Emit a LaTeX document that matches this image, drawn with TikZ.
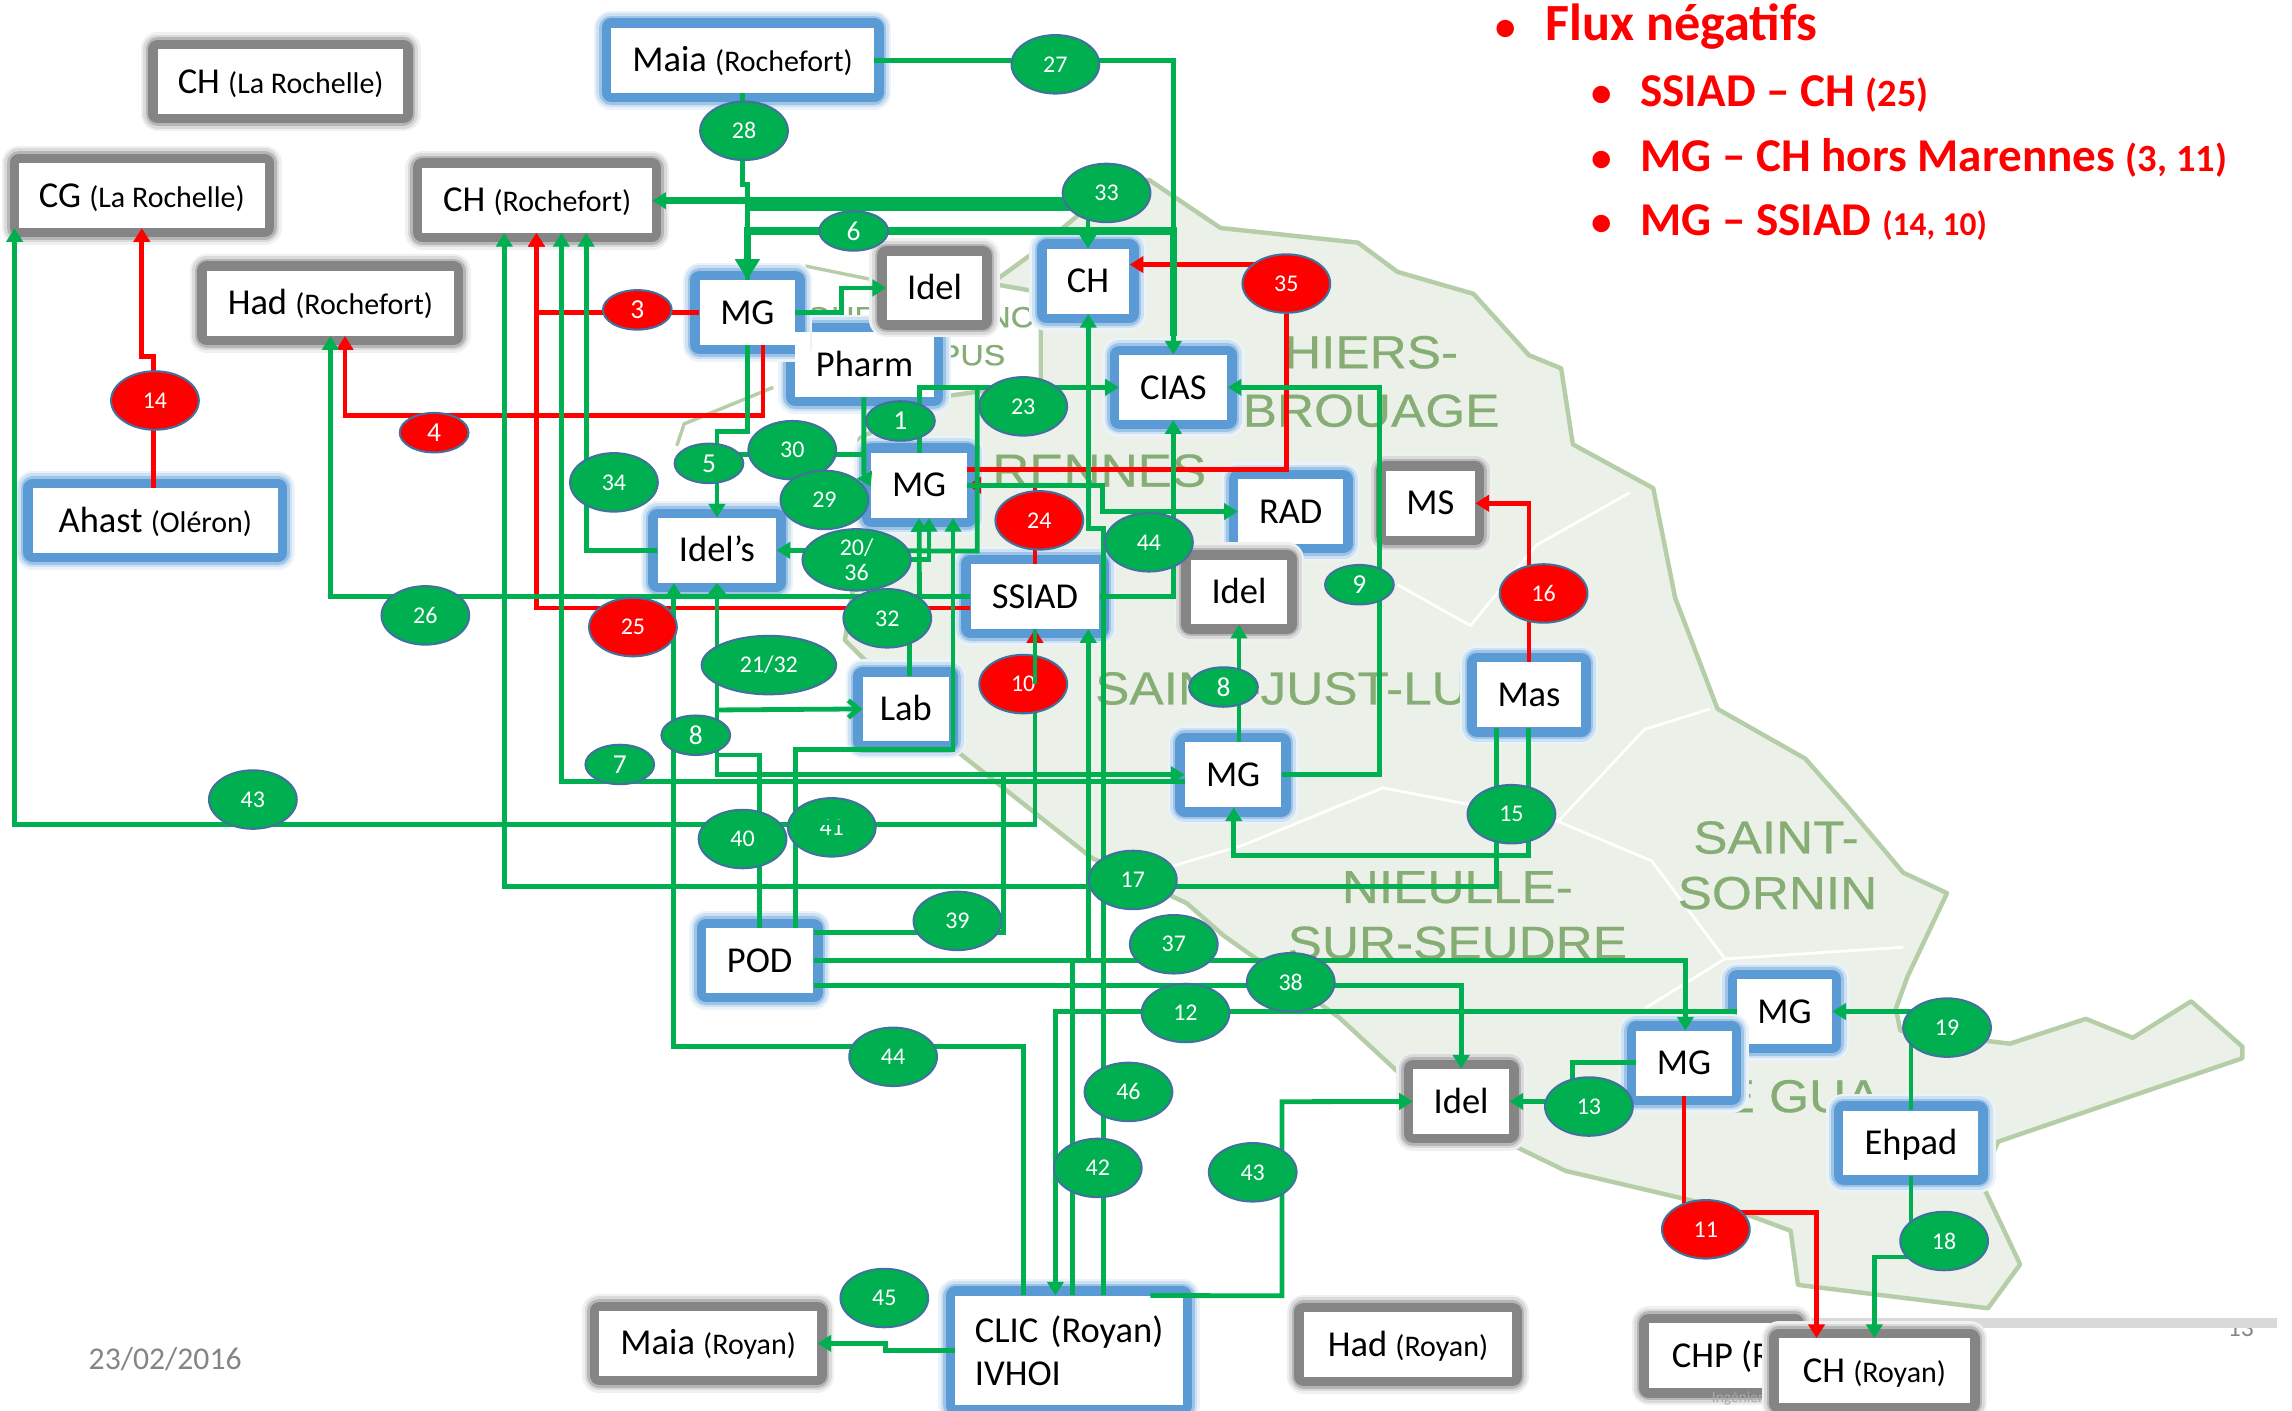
\documentclass[tikz,border=0pt]{standalone}
\usepackage{fontspec}
\setmainfont{Carlito}
\newfontfamily\mapsans[FakeStretch=1.11,FakeBold=0.5]{Liberation Sans}
\usetikzlibrary{shapes.geometric,arrows.meta}
\definecolor{flowgreen}{HTML}{00B050}
\definecolor{ovalline}{HTML}{41719C}
\definecolor{glowblue}{HTML}{5B9BD5}
\definecolor{glowgrey}{HTML}{858585}
\definecolor{mapfill}{HTML}{EBF1E8}
\definecolor{mapline}{HTML}{B5CEA8}
\definecolor{maptext}{HTML}{86AD74}
\newcommand{\place}[1]{{\fontsize{17.5}{19}\selectfont (#1)}}
\newcommand{\hdrsmall}[1]{{\fontsize{22.5}{25}\selectfont (#1)}}
\tikzset{
  >={Triangle[length=8pt,width=9.5pt]},
  plainbox/.style={fill=white, inner sep=0pt, minimum height=1.33cm, font=\fontsize{21.3}{25}\selectfont,
    text height=15.8pt, text depth=2.2pt},
  bluebox/.style={plainbox,
    preaction={draw=glowblue!12, line width=20pt, line join=round},
    preaction={draw=glowblue!30, line width=17pt, line join=round},
    preaction={draw=glowblue!60, line width=14pt, line join=round},
    preaction={draw=glowblue, line width=11pt, line join=round}},
  greybox/.style={plainbox,
    preaction={draw=glowgrey!12, line width=20pt, line join=round},
    preaction={draw=glowgrey!30, line width=17pt, line join=round},
    preaction={draw=glowgrey!60, line width=14pt, line join=round},
    preaction={draw=glowgrey, line width=11pt, line join=round}},
  oval/.style={ellipse, fill=flowgreen, draw=ovalline, line width=1.2pt, text=white, inner sep=0pt,
    minimum width=1.8cm, minimum height=1.2cm, font=\fontsize{14}{15}\selectfont},
  redoval/.style={oval, fill=red},
  oneoval/.style={minimum width=1.41cm, minimum height=0.81cm, font=\fontsize{16}{18}\selectfont},
  flow/.style={draw=flowgreen, line width=2.8pt},
  thickflow/.style={draw=flowgreen, line width=4.3pt},
  neg/.style={draw=red, line width=2.8pt},
  maplabel/.style={text=maptext, inner sep=0pt, font=\mapsans\fontsize{27}{30}\selectfont},
  hdr/.style={text=red, inner sep=0pt, anchor=base west, font=\bfseries\fontsize{27.5}{30}\selectfont},
  hdrdot/.style={text=red, inner sep=0pt, anchor=base, font=\bfseries\fontsize{24}{26}\selectfont}
}
\begin{document}
\begin{tikzpicture}[x=0.03cm, y=-0.03cm]
  \useasboundingbox (0,0) rectangle (1568,965);

  \draw[fill=mapfill, draw=mapline, line width=2.6pt, line join=round]
    (786,123) -- (835,156) -- (929,166) -- (956,186) -- (1008,201) -- (1046,243) -- (1068,252)
    -- (1076,304) -- (1131,334) -- (1146,409) -- (1175,485) -- (1235,519) -- (1265,553) -- (1302,597)
    -- (1332,611) -- (1305,668) -- (1297,690) -- (1300,705) -- (1375,714) -- (1427,697) -- (1459,710)
    -- (1499,685) -- (1534,716) -- (1534,724) -- (1367,781) -- (1355,808) -- (1382,865) -- (1360,895)
    -- (1230,879) -- (1225,842) -- (1190,829) -- (1071,801) -- (1036,784) -- (956,733) -- (916,696)
    -- (837,640) -- (812,618) -- (747,587) -- (656,515) -- (578,438) -- (590,360) -- (588,300)
    -- (640,272) -- (712,262) -- (712,200) -- (678,194) -- (707,173) -- (739,146) -- cycle;
  \draw[mapline, line width=2pt] (529,265) -- (468,290) -- (463,305);
  \draw[mapline, line width=2pt] (551,182) -- (600,192);
  \draw[white, line width=1.6pt] (1115,337) -- (1051,373) -- (1006,428) -- (956,400);
  \draw[white, line width=1.6pt] (1170,485) -- (1125,499) -- (1066,562) -- (1130,589) -- (1180,656) -- (1302,648);
  \draw[white, line width=1.6pt] (1180,656) -- (1125,690);
  \draw[white, line width=1.6pt] (787,597) -- (851,578) -- (946,539) -- (1066,562);

  \node[maplabel] (hiers) at (938,241) {HIERS-};
  \node[maplabel] (brouage) at (938,281) {BROUAGE};
  \node[maplabel] (rennes) at (752,322) {RENNES};
  \node[maplabel] (just) at (877,471) {SAINT-JUST-LU};
  \node[maplabel] (nieulle) at (997,607) {NIEULLE-};
  \node[maplabel] (seudre) at (997,645) {SUR-SEUDRE};
  \node[maplabel] (saint) at (1215,573) {SAINT-};
  \node[maplabel] (sornin) at (1216,611) {SORNIN};
  \node[maplabel] (gua) at (1222,750) {LE GUA};
  \node[maplabel, font=\mapsans\fontsize{17}{20}\selectfont] (bourc) at (622,217) {BOURCEFRANC};
  \node[maplabel, font=\mapsans\fontsize{17}{20}\selectfont] (pus) at (665,243) {PUS};

  \node[text=glowgrey, font=\fontsize{18.5}{20}\selectfont] (date) at (113,930) {23/02/2016};
  \node[text=glowgrey, font=\fontsize{15}{17}\selectfont, anchor=base] (page) at (1533,914.5) {13};
  \fill[black!15] (1130,901.5) rectangle (1558,908.5);

  \node[hdrdot] (bull) at (1030,27.5) {•};
  \node[hdr, font=\bfseries\fontsize{30.5}{33}\selectfont] (flux) at (1057,27.5) {Flux négatifs};
  \node[hdrdot] (bulla) at (1096,72.7) {•};
  \node[hdr] (fluxa) at (1122,72.7) {SSIAD – CH \hdrsmall{25}};
  \node[hdrdot] (bullb) at (1096,117) {•};
  \node[hdr] (fluxb) at (1122,117) {MG – CH hors Marennes \hdrsmall{3, 11}};
  \node[hdrdot] (bullc) at (1096,161) {•};
  \node[hdr] (fluxc) at (1122,161) {MG – SSIAD {\fontsize{19.5}{22}\selectfont (14, 10)}};

  \node[greybox, minimum width=5.04cm] (chlr) at (192,55.8) {CH \place{La Rochelle}};
  \node[greybox, minimum width=5.04cm] (cglr) at (97,133.7) {CG \place{La Rochelle}};
  \node[greybox, minimum width=4.71cm] (chrf) at (367.5,137) {CH \place{Rochefort}};
  \node[greybox, minimum width=5.07cm] (hadrf) at (226,207.5) {Had \place{Rochefort}};
  \node[bluebox, minimum width=5.03cm] (ahast) at (106.3,356) {Ahast \place{Oléron}};
  \node[bluebox, minimum width=5.4cm] (maiarf) at (508,41.2) {Maia \place{Rochefort}};
  \node[bluebox, minimum width=2.85cm] (pharm) at (591.5,249.3) {Pharm};
  \node[bluebox, minimum width=1.96cm] (mgrf) at (511.3,213.7) {MG};
  \fill[white] (pharm.north west) rectangle (554,247);
  \node[greybox, minimum width=1.97cm] (ideltop) at (639.3,197) {Idel};
  \node[bluebox, minimum width=1.7cm] (chmar) at (744.3,192.4) {CH};
  \node[bluebox, minimum width=2.22cm] (cias) at (802.7,265) {CIAS};
  \node[bluebox, minimum width=1.97cm] (mgmar) at (628.8,332) {MG};
  \node[bluebox, minimum width=2.43cm] (idels) at (490.5,376.5) {Idel’s};
  \node[bluebox, minimum width=2.64cm] (ssiad) at (708,408) {SSIAD};
  \node[bluebox, minimum width=1.77cm] (lab) at (619.7,485) {Lab};
  \node[bluebox, minimum width=2.16cm] (rad) at (883,350) {RAD};
  \node[greybox, minimum width=1.83cm] (ms) at (978.6,344.3) {MS};
  \node[greybox, minimum width=1.98cm] (idelmid) at (847.6,405) {Idel};
  \node[bluebox, minimum width=2.14cm] (mas) at (1046,475.3) {Mas};
  \node[bluebox, minimum width=1.98cm] (mgjust) at (843.6,530) {MG};
  \node[bluebox, minimum width=1.95cm] (mggua) at (1220.8,692) {MG};
  \node[bluebox, minimum width=1.97cm] (mgsorn) at (1152,727.4) {MG};
  \node[greybox, minimum width=1.97cm] (idellow) at (999.6,753.5) {Idel};
  \node[bluebox, minimum width=2.77cm] (ehpad) at (1307.3,782) {Ehpad};
  \node[greybox, minimum width=4.28cm] (hadry) at (963.2,919.7) {Had \place{Royan}};
  \node[greybox, minimum width=4.47cm] (maiary) at (484.5,919) {Maia \place{Royan}};
  \node[greybox, minimum width=3cm] (chp) at (1178,927.5) {CHP (R};
  \node[text=glowgrey!70, font=\fontsize{9}{10}\selectfont] (inge) at (1190,957) {Ingénieri};
  \node[greybox, minimum width=3.93cm] (chry) at (1282.3,937.8) {CH \place{Royan}};
  \node[bluebox, minimum width=2.2cm] (pod) at (519.7,657) {POD};
  \node[bluebox, minimum width=4.66cm, minimum height=2.25cm, align=left, text width=3.86cm,
    text height=, text depth=] (clic) at (731.3,924) {\mbox{CLIC (Royan)}\\IVHOI};

  \draw[neg,->] (ahast.north -| 105,0) -- (105,244) -- (97,244) -- (cglr.south -| 97,0);
  \draw[neg,->] (mgrf.west) -- (367,213.7) -- (chrf.south -| 367,0);
  \draw[neg,->] (ssiad.west |- 0,416) -- (367,416) -- (chrf.south -| 367,0);
  \draw[neg,->] (mgrf.south -| 522,0) -- (522,284) -- (236,284) -- (hadrf.south -| 236,0);
  \draw[neg,->] (ssiad.north) |- (mgmar.east);
  \draw[neg,->] (mgmar.east |- 0,321) -- (880,321) -- (880,181) -- (chmar.east |- 0,181);
  \draw[neg,->] (mas.north) |- (ms.east);
  \draw[neg,->] (mgsorn.south) -- (1152,829.4) -- (1242.7,829.4) -- (chry.north -| 1242.7,0);
  \draw[neg,->] (ssiad.south |- 0,468) -- (ssiad.south);

  \draw[flow,->] (maiarf.east) -| (cias.north);
  \draw[flow] (maiarf.south) -- (508,126) -- (511.3,126) -- (mgrf.north);
  \draw[thickflow,<-] (chrf.east |- 0,137.3) -- (757,137.3);
  \draw[thickflow] (757,142) -- (511.3,142);
  \draw[flow,->] (744.3,132) -- (chmar.north);
  \draw[thickflow,{Triangle[length=12pt,width=14pt]}-] (mgrf.north) -- (511.3,158) -- (803,158) -- (803,230);
  \draw[flow,->] (mgrf.east) -- (575.5,213.7) -- (575.5,197) -- (ideltop.west);
  \draw[flow,->] (mgrf.south) -- (511.3,295) -- (490.5,295) -- (idels.north);
  \draw[flow] (485,311) -- (591,311);
  \draw[flow,->] (pharm.south -| 591,0) -- (591,324) -- (mgmar.west |- 0,333);
  \draw[flow,->] (mgmar.north) |- (cias.west);
  \draw[flow,->] (668.5,265) -- (668.5,377) -- (idels.east);
  \draw[flow,->] (ssiad.west) -| (hadrf.south -| 226,0);
  \draw[flow,->] (629,408) -- (mgmar.south);
  \draw[flow,->] (586,383) -- (635.5,383) -- (mgmar.south -| 635.5,0);
  \draw[flow,->] (idels.west) -- (401,376.5) -- (chrf.south -| 401,0);
  \draw[flow,->] (mgjust.west |- 0,534.7) -- (384,534.7) -- (chrf.south -| 384,0);
  \draw[flow,{Straight Barb[length=6pt,width=10pt]}->] (idels.south) -- (490.5,530) -- (mgjust.west);
  \draw[flow,-{Straight Barb[length=6pt,width=10pt]}] (490.5,485.7) -- (lab.west);
  \draw[flow,->] (clic.north -| 700.4,0) -- (700.4,716) -- (461,716) -- (idels.south -| 461,0);
  \draw[flow,->] (pod.east) -- (1153,657) -- (mgsorn.north -| 1153,0);
  \draw[flow,->] (744.5,657) -- (ssiad.south -| 744.5,0);
  \draw[flow] (733.5,657) -- (clic.north -| 733.5,0);
  \draw[flow,->] (mggua.west) -| (clic.north -| 722,0);
  \draw[flow,->] (clic.north -| 755,0) -- (755,361.5) -- (744.5,361.5) -- (chmar.south -| 744.5,0);
  \draw[flow,->] (mgmar.east) -- (754.5,332) -- (754.5,350) -- (rad.west);
  \draw[flow,->] (ssiad.east) -| (cias.south);
  \draw[flow,->] (mgjust.east) -- (943.5,530) -- (943.5,265) -- (cias.east);
  \draw[flow,->] (mgjust.north -| 847.6,0) -- (idelmid.south);
  \draw[flow,->] (mas.south -| 1045.4,0) -- (1045.4,585) -- (844,585) -- (mgjust.south -| 844,0);
  \draw[flow,->] (mas.south -| 1024,0) -- (1024,606.7) -- (345,606.7) -- (chrf.south -| 345,0);
  \draw[flow,->] (ssiad.south) -- (708,564) -- (10,564) -- (cglr.south -| 10,0);
  \draw[flow] (pod.north) -- (519.7,516.5) -- (490.5,516.5);
  \draw[flow,->] (pod.north -| 544.3,0) -- (544.3,513) -- (652,513) -- (mgmar.south -| 652,0);
  \draw[flow] (pod.east |- 0,637.7) -- (686.3,637.7) -- (686.3,530);
  \draw[flow,->] (pod.east |- 0,674) -| (idellow.north);
  \draw[flow] (lab.north -| 622,0) -- (622,423);
  \draw[flow] (mgsorn.west |- 0,727) -- (1075.8,727) -- (1075.8,750);
  \draw[flow,->] (1087,753.5) -- (idellow.east);
  \draw[flow,->] (ehpad.north) |- (mggua.east);
  \draw[flow,->] (ehpad.south) -- (1307.3,860) -- (chry.north |- 0,860) -- (chry.north);
  \draw[flow,->] (clic.north -| 787,0) -- (877,886.5) -- (877,753.7) -- (idellow.west);
  \draw[flow,->] (clic.west |- 0,924) -- (606,924) -- (606,919) -- (maiary.east);

  \node[oval] (n27) at (722,44) {27};
  \node[oval] (n28) at (509,89.5) {28};
  \node[oval] (n33) at (757,132) {33};
  \node[oval, oneoval] (n6) at (584,158) {6};
  \node[redoval, oneoval] (n3) at (436,212) {3};
  \node[redoval] (n35) at (880,194) {35};
  \node[redoval] (n14) at (106,274) {14};
  \node[redoval, oneoval] (n4) at (297,296) {4};
  \node[oval] (n23) at (700,278) {23};
  \node[oval, oneoval] (n1) at (616,288) {1};
  \node[oval] (n30) at (542,308) {30};
  \node[oval, oneoval] (n5) at (485,317) {5};
  \node[oval] (n34) at (420,330) {34};
  \node[oval] (n29) at (564,342) {29};
  \node[redoval] (n24) at (711,356) {24};
  \node[oval] (n44) at (786,371) {44};
  \node[oval, minimum width=2.22cm, minimum height=1.26cm, align=center] (n20) at (586,383) {20/\\36};
  \node[oval, oneoval] (n9) at (930,400) {9};
  \node[redoval] (n16) at (1056,406) {16};
  \node[oval] (n26) at (291,421) {26};
  \node[redoval] (n25) at (433,429) {25};
  \node[oval] (n32) at (607,423) {32};
  \node[oval, minimum width=2.76cm] (n21) at (526,455) {21/32};
  \node[redoval] (n10) at (700,468) {10};
  \node[oval, oneoval] (n8a) at (476,503) {8};
  \node[oval, oneoval] (n8b) at (837,470) {8};
  \node[oval, oneoval] (n7) at (424,523) {7};
  \node[oval] (n43a) at (173,547) {43};
  \node[oval] (n15) at (1034,557) {15};
  \node[oval] (n40) at (508,574) {40};
  \node[oval] (n41) at (569,566) {41};
  \node[oval] (n17) at (775,602) {17};
  \node[oval] (n39) at (655,630) {39};
  \node[oval] (n37) at (803,646) {37};
  \node[oval] (n38) at (883,672) {38};
  \node[oval] (n12) at (811,693) {12};
  \node[oval] (n19) at (1332,703) {19};
  \node[oval] (n44b) at (611,723) {44};
  \node[oval] (n46) at (772,747) {46};
  \node[oval] (n13) at (1087,757) {13};
  \node[oval] (n42) at (751,799) {42};
  \node[oval] (n43b) at (857,802) {43};
  \node[redoval] (n11) at (1167,841) {11};
  \node[oval] (n18) at (1330,849) {18};
  \node[oval] (n45) at (605,888) {45};

  \draw[flow] (ssiad.south) -- (ssiad.south |- n10);
  \draw[flow] ([shift={(-10pt,3pt)}]n41.center) -- ([shift={(10pt,3pt)}]n41.center);
\end{tikzpicture}
\end{document}
